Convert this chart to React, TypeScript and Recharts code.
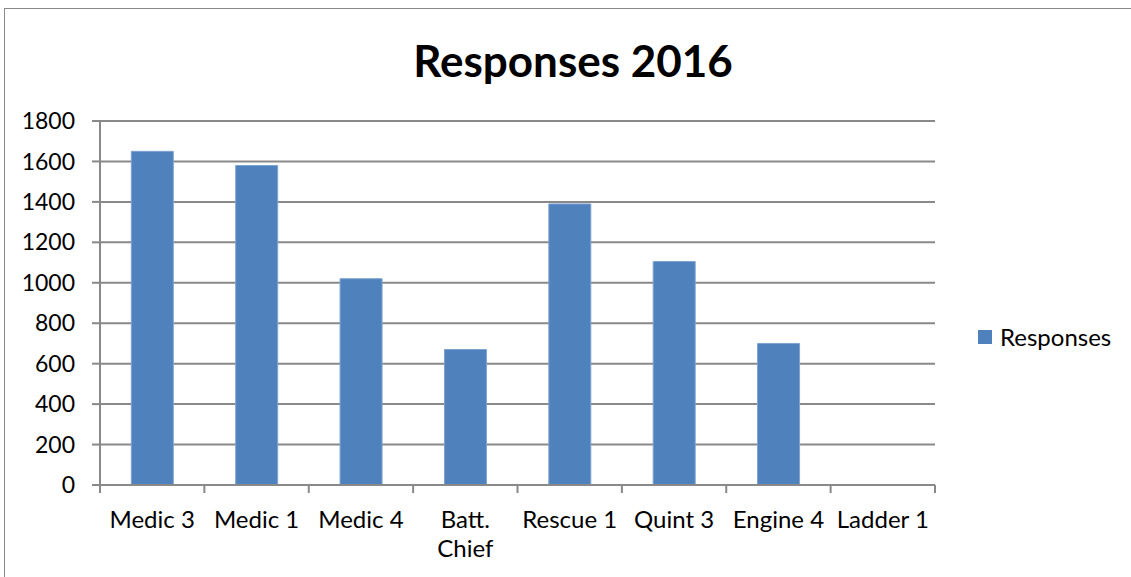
import { Bar, BarChart, CartesianGrid, XAxis, YAxis } from "recharts";

const categories = ["Medic 3", "Medic 1", "Medic 4", "Batt. Chief", "Rescue 1", "Quint 3", "Engine 4", "Ladder 1"];
const responses = [1650, 1580, 1020, 670, 1390, 1105, 700, 0];
const yTicks = [0, 200, 400, 600, 800, 1000, 1200, 1400, 1600, 1800];
const seriesName = "Responses";

const data = categories.map((name, i) => ({ name, [seriesName]: responses[i] }));

const WIDTH = 1126;
const HEIGHT = 568;
const MARGIN = { top: 112, right: 196, bottom: 0, left: 0 };
const Y_AXIS_WIDTH = 95;
const PLOT_WIDTH = WIDTH - MARGIN.left - MARGIN.right - Y_AXIS_WIDTH;
const STEP = PLOT_WIDTH / categories.length;

const FONT = "Lato, 'Open Sans', sans-serif";
const GRID = "#898989";
const BAR = "#4F81BD";

// long labels don't fit in one band, break them at the space
const labelLines = (label: string) => (label.length > 9 ? label.split(" ") : [label]);

function CategoryTick(props: any) {
  const { x, y, payload, index } = props;
  const left = x - STEP / 2;
  return (
    <g>
      <line x1={left} y1={y} x2={left} y2={y + 8} stroke={GRID} strokeWidth={2} />
      {index === categories.length - 1 && (
        <line x1={x + STEP / 2} y1={y} x2={x + STEP / 2} y2={y + 8} stroke={GRID} strokeWidth={2} />
      )}
      <text x={x} y={y + 43} textAnchor="middle" fontSize={24} fontFamily={FONT} fill="#000">
        {labelLines(payload.value).map((line, i) => (
          <tspan key={line} x={x} dy={i === 0 ? 0 : 29}>
            {line}
          </tspan>
        ))}
      </text>
    </g>
  );
}

export default function App() {
  return (
    <div
      style={{
        position: "absolute",
        left: 4,
        top: 8,
        width: WIDTH,
        height: HEIGHT,
        borderTop: "1px solid #888",
        borderLeft: "1px solid #888",
        background: "#fff",
      }}
    >
      <div
        style={{
          position: "absolute",
          left: 0,
          top: 26,
          width: 1136,
          textAlign: "center",
          fontFamily: FONT,
          fontWeight: 700,
          fontSize: 44,
          color: "#000",
          lineHeight: "50px",
        }}
      >
        Responses 2016
      </div>
      <div
        style={{
          position: "absolute",
          left: 973,
          top: 313,
          display: "flex",
          alignItems: "center",
          fontFamily: FONT,
          fontSize: 24,
          color: "#000",
        }}
      >
        <span style={{ width: 14, height: 14, background: BAR, marginRight: 8 }} />
        {seriesName}
      </div>
      <BarChart width={WIDTH} height={HEIGHT} data={data} margin={MARGIN} barCategoryGap="30%">
        <CartesianGrid vertical={false} stroke={GRID} strokeWidth={2} />
        <XAxis
          dataKey="name"
          axisLine={{ stroke: GRID, strokeWidth: 2 }}
          tickLine={false}
          tickSize={0}
          tickMargin={0}
          height={92}
          interval={0}
          tick={<CategoryTick />}
        />
        <YAxis
          width={Y_AXIS_WIDTH}
          domain={[0, 1800]}
          ticks={yTicks}
          interval={0}
          axisLine={{ stroke: GRID, strokeWidth: 2 }}
          tickLine={{ stroke: GRID, strokeWidth: 2 }}
          tickSize={8}
          tickMargin={17}
          tick={{ fontSize: 23, fontFamily: FONT, fill: "#000" }}
        />
        <Bar dataKey={seriesName} fill={BAR} stroke="#7fa3d0" strokeWidth={1} isAnimationActive={false} />
      </BarChart>
    </div>
  );
}
